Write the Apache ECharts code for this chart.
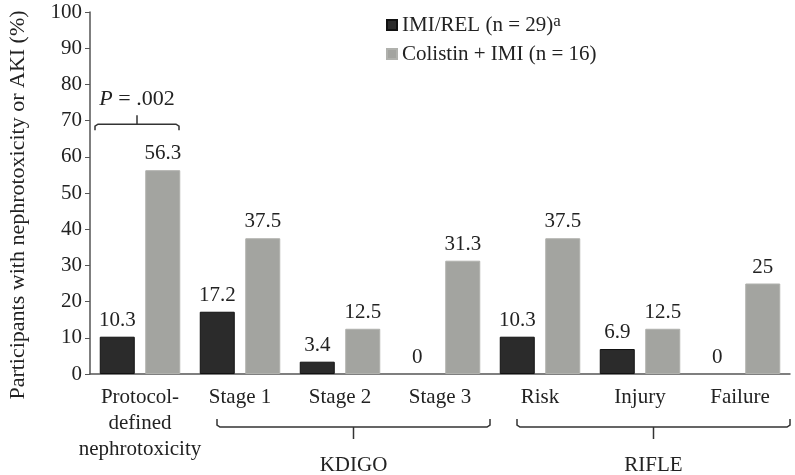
<!DOCTYPE html>
<html><head><meta charset="utf-8">
<script src="https://cdn.jsdelivr.net/npm/echarts@6/dist/echarts.min.js"></script>
<style>html,body{margin:0;padding:0;background:#fff}#c{width:795px;height:475px}</style>
</head><body><div id="c"></div>
<script>
const categories = ['Protocol-\ndefined\nnephrotoxicity','Stage 1','Stage 2','Stage 3','Risk','Injury','Failure'];
const imiRel = [10.3, 17.2, 3.4, 0, 10.3, 6.9, 0];
const colistinImi = [56.3, 37.5, 12.5, 31.3, 37.5, 12.5, 25];
const yTicks = [0,10,20,30,40,50,60,70,80,90,100];
const groups = [{name:'KDIGO', from:1, to:3}, {name:'RIFLE', from:4, to:6}];
const pText = '.002';
const yName = 'Participants with nephrotoxicity or AKI (%)';

const FONT = '"Liberation Serif", "DejaVu Serif", serif';
const chart = echarts.init(document.getElementById('c'));
const labelStyle = {show:true, position:'top', distance:6, fontFamily:FONT, fontSize:21, color:'#222'};
const mk = arr => arr.map(v => v === 0 ? {value:v, itemStyle:{borderWidth:0, color:'rgba(0,0,0,0)'}} : v);
chart.setOption({
  animation:false,
  textStyle:{fontFamily:FONT},
  grid:{left:90, right:5, top:12, bottom:101},
  legend:{
    top:13, left:386, orient:'vertical', itemWidth:10, itemHeight:10, itemGap:5, padding:0,
    textStyle:{fontFamily:FONT, fontSize:21, lineHeight:24, color:'#222', rich:{sup:{fontSize:17, verticalAlign:'top', lineHeight:12, fontFamily:FONT, color:'#222'}}},
    formatter: n => n === 'IMI/REL (n = 29)' ? n + '{sup|a}' : n,
    data:[{name:'IMI/REL (n = 29)', icon:'rect'},{name:'Colistin + IMI (n = 16)', icon:'rect'}]
  },
  xAxis:{
    type:'category', data:categories,
    axisLine:{lineStyle:{color:'#555', width:1.5}},
    axisTick:{show:false},
    axisLabel:{fontFamily:FONT, fontSize:21, color:'#222', margin:10, lineHeight:26, interval:0}
  },
  yAxis:{
    type:'value', min:0, max:100, interval:10,
    axisLine:{show:true, lineStyle:{color:'#555', width:1.5}},
    axisTick:{show:true, length:5, lineStyle:{color:'#555'}},
    axisLabel:{fontFamily:FONT, fontSize:21, color:'#222', margin:8, formatter:v=>yTicks.includes(v)?String(v):''},
    splitLine:{show:false}
  },
  series:[
    {name:'IMI/REL (n = 29)', type:'bar', data:mk(imiRel), barWidth:35, barGap:'30%',
     itemStyle:{color:'#2b2b2b', borderColor:'#111', borderWidth:1}, label:labelStyle},
    {name:'Colistin + IMI (n = 16)', type:'bar', data:mk(colistinImi), barWidth:35,
     itemStyle:{color:'#a3a4a0', borderColor:'#b0b1ad', borderWidth:1}, label:labelStyle}
  ]
});

const px = (i, v) => chart.convertToPixel({xAxisIndex:0, yAxisIndex:0}, [i, v]);
const g = [];
g.push({type:'text', x:18, y:205, rotation:Math.PI/2, style:{text:yName, fontFamily:FONT, fontSize:22, fill:'#222', align:'center', verticalAlign:'middle'}});
const b0 = px(0, 69), bTop = px(0, 71.5);
const bl = b0[0] - 45, br = b0[0] + 39;
g.push({type:'polyline', shape:{points:[[bl, b0[1]+6],[bl, b0[1]+2],[bl+3, b0[1]],[br-3, b0[1]],[br, b0[1]+2],[br, b0[1]+6]]}, style:{stroke:'#333', lineWidth:1.5, fill:null}});
g.push({type:'line', shape:{x1:b0[0]-3, y1:b0[1], x2:b0[0]-3, y2:bTop[1]}, style:{stroke:'#333', lineWidth:1.5}});
const pPos = px(0, 76);
g.push({type:'text', x:pPos[0]-3, y:pPos[1], style:{text:'{i|P} = ' + pText, rich:{i:{fontStyle:'italic', fontFamily:FONT, fontSize:22, fill:'#222'}}, fontFamily:FONT, fontSize:22, fill:'#222', align:'center', verticalAlign:'middle'}});
const base = px(0, 0)[1];
groups.forEach(gr => {
  const l = px(gr.from, 0)[0] - 23, r = px(gr.to, 0)[0] + 50;
  const y = base + 53, mid = (l + r) / 2;
  g.push({type:'polyline', shape:{points:[[l, y-8],[l, y-2],[l+3, y],[r-3, y],[r, y-2],[r, y-8]]}, style:{stroke:'#333', lineWidth:1.5, fill:null}});
  g.push({type:'line', shape:{x1:mid, y1:y, x2:mid, y2:y+12}, style:{stroke:'#333', lineWidth:1.5}});
  g.push({type:'text', x:mid, y:base + 91, style:{text:gr.name, fontFamily:FONT, fontSize:21, fill:'#222', align:'center', verticalAlign:'middle'}});
});
chart.setOption({graphic:g});
</script></body></html>
